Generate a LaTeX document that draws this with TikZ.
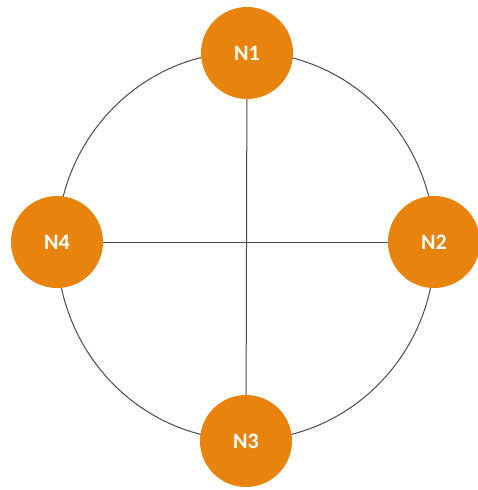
\documentclass[tikz,border=0pt]{standalone}
\usepackage{fontspec}
\setmainfont{Carlito}
\definecolor{nodeorange}{HTML}{E8840E}
\definecolor{linegray}{HTML}{4A4A4A}
\begin{document}
\begin{tikzpicture}[x=1pt,y=-1pt,
  ringnode/.style={circle,fill=nodeorange,minimum size=92pt,inner sep=0pt,text=white,font=\fontsize{22}{22}\selectfont\bfseries},
  link/.style={draw=linegray,line width=1pt}]
\useasboundingbox (0,0) rectangle (478,490);
\draw[link] (246,246) ellipse [x radius=189, y radius=194];
\node[ringnode] (n1) at (247,53) {N1};
\node[ringnode] (n2) at (434,242) {N2};
\node[ringnode] (n3) at (246,441) {N3};
\node[ringnode] (n4) at (57,242) {N4};
\draw[link] (n1) -- (n3);
\draw[link] (n4) -- (n2);
\end{tikzpicture}
\end{document}
